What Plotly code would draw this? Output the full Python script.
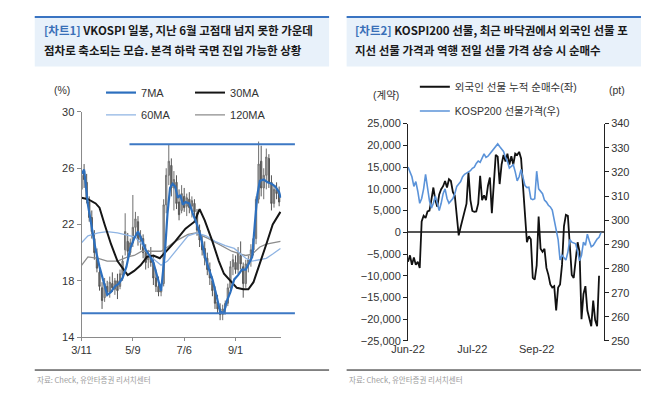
import plotly.graph_objects as go

W, H = 670, 402
PAGE_OFFSET = 8  # the page body margin shifts the figure 8px right and down

FONT = "Liberation Sans, Noto Sans CJK KR"
FONT_KR = "Noto Sans CJK KR"
C_TEXT = "#333333"
C_AXIS = "#8a8a8a"
C_HEAD_BG = "#e8f1fa"
C_HEAD_LINE = "#3a74c2"
C_TAG = "#3a70b8"

# ---------------- chart 1 : VKOSPI daily (x = trading-day index, 3/11 = 0) ----------------
vk_tick_idx = [0, 40, 80, 120]
vk_tick_text = ["3/11", "5/9", "7/6", "9/1"]

vk_idx = list(range(0, 156, 2))
vk_open = [24.5, 25.8, 25.0, 23.6, 22.5, 21.0, 19.8, 18.6, 17.5, 16.8,
           17.6, 17.2, 17.8, 17.4, 18.0, 17.6, 18.4, 20.2, 20.8, 20.0,
           20.7, 21.8, 22.2, 20.9, 21.0, 20.0, 19.5, 19.8, 19.3, 18.2,
           17.6, 17.2, 17.8, 23.4, 25.5, 26.2, 24.6, 25.0, 23.6, 23.0,
           24.0, 23.3, 23.8, 23.3, 23.5, 22.8, 21.6, 20.8, 20.3, 19.6,
           18.8, 18.0, 17.3, 16.5, 16.0, 15.6, 16.1, 16.4, 17.5, 19.0,
           19.3, 18.8, 19.8, 19.0, 17.8, 19.2, 19.4, 20.2, 21.0, 23.8,
           26.5, 24.6, 25.5, 26.7, 25.0, 23.5, 24.5, 24.2]
vk_high = [29.5, 26.3, 25.6, 24.0, 23.0, 21.6, 20.3, 19.0, 17.9, 18.2,
           18.0, 18.3, 18.6, 18.2, 18.5, 18.8, 19.8, 22.8, 21.4, 21.0,
           24.1, 22.9, 22.6, 21.6, 21.3, 20.6, 20.2, 20.4, 19.8, 18.8,
           18.3, 17.6, 23.8, 26.0, 27.7, 26.7, 25.8, 25.5, 24.5, 24.8,
           24.6, 24.2, 24.3, 24.0, 23.8, 23.1, 22.0, 21.2, 20.8, 20.0,
           19.3, 18.3, 17.6, 17.0, 16.4, 16.3, 16.6, 17.8, 19.4, 19.9,
           19.8, 20.4, 20.8, 19.3, 19.5, 19.8, 20.6, 21.4, 24.0, 27.9,
           27.6, 26.0, 27.4, 27.0, 25.5, 24.8, 25.0, 24.7]
vk_low = [23.6, 24.6, 23.5, 22.2, 21.0, 19.5, 18.6, 17.3, 16.0, 16.5,
          16.9, 16.8, 17.2, 17.0, 16.7, 17.4, 18.0, 19.8, 19.6, 19.8,
          20.4, 21.2, 20.5, 20.2, 19.6, 18.8, 18.9, 19.0, 17.7, 17.2,
          16.9, 16.9, 17.6, 22.8, 24.8, 24.0, 23.0, 23.1, 22.3, 22.8,
          22.9, 22.6, 22.8, 22.5, 22.6, 21.2, 20.4, 19.8, 19.1, 18.4,
          17.7, 16.9, 16.0, 15.7, 15.2, 15.2, 15.6, 16.2, 17.2, 18.4,
          18.5, 18.5, 18.8, 16.8, 17.5, 18.6, 19.0, 19.8, 20.6, 23.5,
          24.0, 23.8, 24.5, 24.6, 23.0, 23.2, 23.8, 23.3]
vk_close = [25.5, 25.2, 23.8, 22.5, 21.5, 20.0, 18.9, 17.6, 16.6, 17.8,
            17.2, 17.9, 17.5, 18.0, 17.3, 18.5, 19.4, 21.5, 20.1, 20.7,
            21.8, 22.4, 20.9, 21.2, 20.0, 19.3, 19.8, 19.3, 18.2, 17.6,
            17.2, 17.4, 23.4, 25.5, 26.5, 24.6, 25.2, 23.5, 22.7, 24.2,
            23.2, 23.9, 23.2, 23.7, 22.9, 21.6, 20.9, 20.2, 19.6, 18.8,
            18.2, 17.3, 16.4, 16.0, 15.6, 16.0, 16.4, 17.5, 19.0, 19.5,
            18.8, 20.0, 19.2, 17.8, 19.2, 19.5, 20.2, 21.0, 23.8, 26.3,
            24.6, 25.5, 26.8, 25.0, 23.5, 24.5, 24.2, 23.6]

ma7_x = [0, 2, 5, 8, 11, 14, 17, 20, 23, 26, 29, 32, 35, 38, 41, 44, 47, 50, 53, 56,
         59, 62, 65, 67, 69, 71, 73, 75, 77, 79, 81, 84, 87, 90, 93, 96, 99, 102, 105, 108,
         111, 113, 116, 119, 122, 125, 128, 131, 133, 135, 137, 139, 142, 145, 148, 151, 154, 155]
ma7 = [25.6, 25.9, 23.4, 21.8, 20.2, 19.0, 17.9, 17.0, 17.2, 17.6,
       17.8, 18.2, 19.0, 20.3, 21.0, 21.5, 20.9, 20.2, 19.8, 19.3,
       18.3, 17.3, 20.0, 22.8, 24.6, 24.9, 24.7, 23.9, 24.1, 23.4,
       23.6, 23.5, 22.7, 22.0, 21.1, 19.8, 18.9, 18.1, 17.0, 15.8,
       15.7, 16.5, 17.2, 18.1, 18.4, 18.8, 18.8, 19.3, 19.7, 22.0,
       24.1, 25.1, 25.2, 25.0, 24.9, 24.7, 24.3, 23.9]

ma30_x = [0, 5, 11, 14, 18, 23, 28, 33, 36, 41, 46, 51, 56, 61, 66, 73,
          81, 88, 92, 96, 102, 107, 111, 117, 121, 126, 130, 134, 139, 144, 149, 155]
ma30 = [23.9, 23.8, 23.5, 23.2, 22.0, 20.6, 19.4, 18.8, 18.4, 18.7, 19.1, 19.7, 19.8, 19.6, 20.1, 20.8,
        21.7, 22.2, 23.1, 22.3, 20.8, 19.4, 18.5, 17.9, 17.5, 17.4, 17.4, 17.9, 19.2, 20.6, 22.0, 22.9]

ma60_x = [0, 5, 13, 20, 28, 36, 42, 47, 52, 58, 62, 67, 73, 78,
          83, 90, 97, 104, 112, 119, 124, 128, 133, 139, 144, 149, 155]
ma60 = [20.7, 21.2, 21.4, 21.5, 21.4, 21.2, 21.1, 20.6, 19.9, 19.4, 19.1, 19.4, 20.1, 20.6,
        21.2, 21.4, 21.2, 20.8, 20.5, 20.3, 19.9, 19.6, 19.4, 19.5, 19.6, 19.9, 20.3]

ma120_x = [0, 5, 13, 20, 28, 36, 41, 47, 52, 62, 67, 73,
           83, 89, 99, 109, 117, 124, 128, 133, 139, 144, 149, 155]
ma120 = [19.1, 19.7, 19.6, 19.4, 19.4, 19.7, 19.8, 20.1, 20.1, 20.1, 20.4, 20.8,
         21.3, 21.4, 21.0, 20.5, 20.1, 19.9, 19.8, 19.9, 20.4, 20.6, 20.7, 20.8]

vk_resist = 27.7
vk_support = 15.7

# ---------------- chart 2 : KOSPI200 futures (x = trading-day index) ----------------
k2_tick_idx = [0, 33, 66]
k2_tick_text = ["Jun-22", "Jul-22", "Sep-22"]

foreign_cum = [-6800, -5300, -7500, -5800, -7500, -6800, -8200, 2500, 3800, 3300,
               4800, 5000, 7500, 10300, 7400, 5900, 8700, 9900, 10600, 11800,
               10300, 12200, 11800, 9300, 8400, 4400, -700, 1200, 2900, 4800,
               6600, 13800, 7400, 4900, 4700, 4800, 6600, 13000, 7400, 8500,
               7400, 10700, 12600, 4400, 12000, 17800, 17400, 11100, 15600, 17800,
               16300, 18100, 15600, 17500, 15600, 18100, 17800, 18500, 17000, 10300,
               5100, -2300, -900, -1600, -10500, -10900, -7600, 3600, -3800, -4500,
               -3800, -8200, -9800, -12000, -12700, -12400, -18000, -12700, -12000, -7500,
               1400, 4000, 3800, -2300, -9800, -10500, -6800, -2300, -4500, -20000,
               -14200, -12400, -18000, -20200, -21600, -15700, -20200, -21600, -10000]

k200_fut = [322, 320, 318, 314, 316, 312, 307, 309, 313, 319,
            314, 308, 305, 307, 310, 307, 304, 307, 311, 313,
            309, 307, 308, 309, 311, 314, 315, 316, 318, 319,
            319.5, 320, 320.5, 321.5, 322, 323.5, 324.5, 324, 325.5, 327.5,
            326, 326.5, 327.5, 328.5, 329.6, 330.5, 331.6, 330.5, 329.6, 328.5,
            326, 324.3, 321.6, 322.5, 323, 320, 316.3, 318, 321, 317.6,
            314.3, 313.5, 313.7, 308.9, 308.5, 308.9, 320.3, 313, 312, 311,
            308.3, 307.5, 306.2, 305.5, 304.2, 300, 297, 292, 283.5, 285.5,
            284.5, 283.5, 286.8, 292, 290.9, 290.5, 290.2, 287, 283.2, 285.5,
            290.9, 289.6, 294.2, 291.5, 289, 289.6, 291, 292.2, 292.9, 294.9]


def px_x(p):
    # screen pixel -> paper fraction
    return (p - PAGE_OFFSET) / W


def px_y(p):
    return 1 - (p - PAGE_OFFSET) / H


fig = go.Figure()

# chart 1 traces
fig.add_trace(go.Candlestick(
    x=vk_idx, open=vk_open, high=vk_high, low=vk_low, close=vk_close,
    xaxis="x", yaxis="y", showlegend=False, whiskerwidth=0,
    increasing={"line": {"color": "#6f6f6f", "width": 1}, "fillcolor": "#b4b4b4"},
    decreasing={"line": {"color": "#555555", "width": 1}, "fillcolor": "#7a7a7a"},
))
fig.add_trace(go.Scatter(x=ma120_x, y=ma120, name="120MA", mode="lines", xaxis="x", yaxis="y",
                         line={"color": "#8c8c8c", "width": 1.3}, legend="legend2", legendrank=2))
fig.add_trace(go.Scatter(x=ma60_x, y=ma60, name="60MA", mode="lines", xaxis="x", yaxis="y",
                         line={"color": "#8fb4e3", "width": 1.3}, legend="legend2", legendrank=1))
fig.add_trace(go.Scatter(x=ma30_x, y=ma30, name="30MA", mode="lines", xaxis="x", yaxis="y",
                         line={"color": "#151515", "width": 2}, legend="legend", legendrank=2))
fig.add_trace(go.Scatter(x=ma7_x, y=ma7, name="7MA", mode="lines", xaxis="x", yaxis="y",
                         line={"color": "#2c6fbe", "width": 2.2}, legend="legend", legendrank=1))

# chart 2 traces
fig.add_trace(go.Scatter(x=list(range(len(foreign_cum))), y=foreign_cum, name="외국인 선물 누적 순매수(좌)",
                         mode="lines", xaxis="x2", yaxis="y2",
                         line={"color": "#111111", "width": 1.8}, legend="legend3"))
fig.add_trace(go.Scatter(x=list(range(len(k200_fut))), y=k200_fut, name="KOSP200 선물가격(우)",
                         mode="lines", xaxis="x2", yaxis="y3",
                         line={"color": "#5b93d9", "width": 1.6}, legend="legend4"))

tick_font = {"family": FONT, "size": 11, "color": C_TEXT}
legend_base = {"orientation": "h", "bgcolor": "rgba(0,0,0,0)", "xanchor": "left", "yanchor": "middle",
               "entrywidthmode": "pixels", "itemclick": False}

fig.update_layout(
    width=W, height=H, autosize=False,
    margin={"l": 0, "r": 0, "t": 0, "b": 0},
    paper_bgcolor="white", plot_bgcolor="white",
    font={"family": FONT, "color": C_TEXT, "size": 11},
    xaxis={
        "domain": [px_x(66), px_x(271)], "anchor": "y", "range": [0, 155.7],
        "tickvals": vk_tick_idx, "ticktext": vk_tick_text, "tickfont": tick_font,
        "showline": True, "linecolor": C_AXIS, "ticks": "outside", "ticklen": 3, "tickcolor": C_AXIS,
        "showgrid": False, "zeroline": False, "rangeslider": {"visible": False},
    },
    yaxis={
        "domain": [px_y(341), px_y(109)], "anchor": "x", "range": [14, 30],
        "tick0": 14, "dtick": 4, "tickfont": tick_font,
        "showline": True, "linecolor": C_AXIS, "ticks": "outside", "ticklen": 4, "tickcolor": C_AXIS,
        "showgrid": False, "zeroline": False,
    },
    xaxis2={
        "domain": [px_x(401), px_x(602)], "anchor": "y2", "range": [0, 100.5],
        "tickvals": k2_tick_idx, "ticktext": k2_tick_text, "tickfont": tick_font,
        "showline": False, "ticks": "", "showgrid": False, "zeroline": False,
    },
    yaxis2={
        "domain": [px_y(345), px_y(121)], "anchor": "x2", "range": [-25000, 25000],
        "dtick": 5000, "tickformat": ",", "tickfont": tick_font,
        "showline": True, "linecolor": "#222222", "ticks": "outside", "ticklen": 4, "tickcolor": "#222222",
        "showgrid": False, "zeroline": True, "zerolinecolor": "#555555", "zerolinewidth": 2,
    },
    yaxis3={
        "overlaying": "y2", "side": "right", "anchor": "x2", "range": [250, 340],
        "dtick": 10, "tickfont": tick_font,
        "showline": True, "linecolor": "#222222", "ticks": "outside", "ticklen": 4, "tickcolor": "#222222",
        "showgrid": False, "zeroline": False,
    },
    legend={**legend_base, "x": px_x(86), "y": px_y(89), "entrywidth": 44,
            "font": {"family": FONT, "size": 11, "color": C_TEXT}},
    legend2={**legend_base, "x": px_x(86), "y": px_y(112), "entrywidth": 44,
             "font": {"family": FONT, "size": 11, "color": C_TEXT}},
    legend3={**legend_base, "x": px_x(408), "y": px_y(83),
             "font": {"family": FONT, "size": 10.5, "color": C_TEXT}},
    legend4={**legend_base, "x": px_x(408), "y": px_y(108),
             "font": {"family": FONT, "size": 10.5, "color": C_TEXT}},
    hovermode=False,
)

# headers, support/resistance lines, source rules
shapes = []
for x0, x1 in [(18, 320), (338, 640)]:
    shapes.append({"type": "rect", "xref": "paper", "yref": "paper", "x0": px_x(x0), "x1": px_x(x1),
                   "y0": px_y(62), "y1": px_y(11), "fillcolor": C_HEAD_BG, "line": {"width": 0}, "layer": "below"})
    shapes.append({"type": "line", "xref": "paper", "yref": "paper", "x0": px_x(x0), "x1": px_x(x1),
                   "y0": px_y(11), "y1": px_y(11), "line": {"color": C_HEAD_LINE, "width": 2}})
    shapes.append({"type": "line", "xref": "paper", "yref": "paper", "x0": px_x(x0), "x1": px_x(x1),
                   "y0": px_y(375), "y1": px_y(375), "line": {"color": "#111111", "width": 1}})
shapes.append({"type": "line", "xref": "x domain", "yref": "y", "x0": 0.24, "x1": 1.068,
               "y0": vk_resist, "y1": vk_resist, "line": {"color": "#3d78c4", "width": 2}})
shapes.append({"type": "line", "xref": "x domain", "yref": "y", "x0": 0, "x1": 1.068,
               "y0": vk_support, "y1": vk_support, "line": {"color": "#3d78c4", "width": 2}})
fig.update_layout(shapes=shapes)

title_font = {"family": FONT_KR, "size": 11.5, "color": "#1a1a1a"}
annotations = [
    {"text": f'<b><span style="color:{C_TAG}">[차트1]</span> VKOSPI 일봉, 지난 6월 고점대 넘지 못한 가운데</b>',
     "x": px_x(25), "y": px_y(25)},
    {"text": "<b>점차로 축소되는 모습. 본격 하락 국면 진입 가능한 상황</b>", "x": px_x(25), "y": px_y(45)},
    {"text": f'<b><span style="color:{C_TAG}">[차트2]</span> KOSPI200 선물, 최근 바닥권에서 외국인 선물 포</b>',
     "x": px_x(345), "y": px_y(25)},
    {"text": "<b>지선 선물 가격과 역행 전일 선물 가격 상승 시 순매수</b>", "x": px_x(345), "y": px_y(45)},
]
for a in annotations:
    fig.add_annotation(xref="paper", yref="paper", xanchor="left", yanchor="middle",
                       showarrow=False, font=title_font, **a)

for txt, x, y in [("(%)", 46, 86), ("(계약)", 378, 92), ("(pt)", 615, 86)]:
    fig.add_annotation(text=txt, xref="paper", yref="paper", x=px_x(x), y=px_y(y),
                       xanchor="center", yanchor="middle", showarrow=False,
                       font={"family": FONT, "size": 10.5, "color": C_TEXT})

for x in [18, 338]:
    fig.add_annotation(text="자료: Check, 유안타증권 리서치센터", xref="paper", yref="paper",
                       x=px_x(x), y=px_y(385), xanchor="left", yanchor="middle", showarrow=False,
                       font={"family": FONT_KR, "size": 7.5, "color": "#9a9a9a"})

fig.write_html("out.html")
